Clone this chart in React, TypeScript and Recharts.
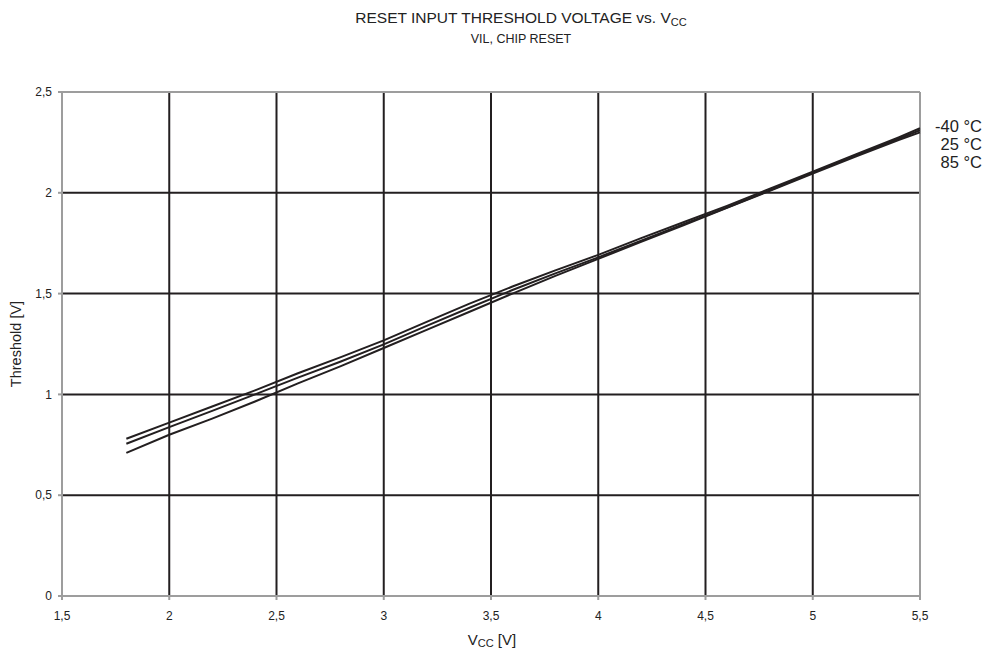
import { CartesianGrid, Line, LineChart, ReferenceLine, XAxis, YAxis } from "recharts";

const vcc = [1.8, 2.0, 2.2, 2.4, 2.6, 2.8, 3.0, 3.2, 3.4, 3.6, 3.8, 4.0, 4.2, 4.4, 4.6, 4.8, 5.0, 5.2, 5.4, 5.5];
const tMinus40 = [0.78, 0.86, 0.94, 1.02, 1.105, 1.185, 1.268, 1.36, 1.45, 1.535, 1.615, 1.692, 1.775, 1.855, 1.935, 2.02, 2.105, 2.19, 2.275, 2.32];
const t25 = [0.755, 0.838, 0.918, 1.0, 1.083, 1.163, 1.248, 1.34, 1.43, 1.518, 1.6, 1.68, 1.762, 1.845, 1.927, 2.012, 2.1, 2.185, 2.268, 2.31];
const t85 = [0.71, 0.8, 0.88, 0.965, 1.055, 1.14, 1.23, 1.32, 1.41, 1.5, 1.588, 1.672, 1.757, 1.84, 1.925, 2.01, 2.095, 2.18, 2.262, 2.3];
const xTicks = [1.5, 2, 2.5, 3, 3.5, 4, 4.5, 5, 5.5];
const yTicks = [0, 0.5, 1, 1.5, 2, 2.5];
const seriesLabels = ["-40 °C", "25 °C", "85 °C"];

const data = vcc.map((v, i) => ({ v, a: tMinus40[i], b: t25[i], c: t85[i] }));

const FONT = "'Liberation Sans', Arial, sans-serif";
const INK = "#231f20";
const AXIS = "#9d9d9d";
const fmt = (n: number) => String(n).replace(".", ",");

export default function App() {
  return (
    <div style={{ position: "absolute", left: 0, top: 0, width: 987, height: 652, background: "#fff", fontFamily: FONT }}>
      <LineChart width={987} height={652} data={data} margin={{ top: 92, right: 67, bottom: 26, left: 0 }}>
        <CartesianGrid stroke={INK} strokeWidth={2} />
        <XAxis
          type="number"
          dataKey="v"
          domain={[1.5, 5.5]}
          ticks={xTicks}
          tickFormatter={fmt}
          height={30}
          stroke={AXIS}
          strokeWidth={2}
          tickSize={4}
          tickMargin={11}
          tick={{ fontSize: 12, fill: "#222", fontFamily: FONT }}
        />
        <YAxis
          type="number"
          domain={[0, 2.5]}
          ticks={yTicks}
          tickFormatter={fmt}
          width={62}
          stroke={AXIS}
          strokeWidth={2}
          tickSize={4}
          tickMargin={6}
          tick={{ fontSize: 12, fill: "#222", fontFamily: FONT }}
        />
        <ReferenceLine y={2.5} stroke={AXIS} strokeWidth={2} />
        <ReferenceLine x={5.5} stroke={AXIS} strokeWidth={2} />
        <Line dataKey="a" stroke={INK} strokeWidth={2} dot={false} isAnimationActive={false} />
        <Line dataKey="b" stroke={INK} strokeWidth={2} dot={false} isAnimationActive={false} />
        <Line dataKey="c" stroke={INK} strokeWidth={2} dot={false} isAnimationActive={false} />
      </LineChart>
      <svg width={987} height={652} style={{ position: "absolute", left: 0, top: 0, pointerEvents: "none" }}>
        <text x={521} y={23} textAnchor="middle" fontSize={15.5} fill="#222" fontFamily={FONT}>
          RESET INPUT THRESHOLD VOLTAGE vs. V<tspan fontSize={11} dy={3}>CC</tspan>
        </text>
        <text x={521} y={43} textAnchor="middle" fontSize={12.5} fill="#222" fontFamily={FONT}>
          VIL, CHIP RESET
        </text>
        {seriesLabels.map((s, i) => (
          <text key={s} x={982} y={132 + i * 18} textAnchor="end" fontSize={16.5} fill="#222" fontFamily={FONT}>
            {s}
          </text>
        ))}
        <text x={492} y={645} textAnchor="middle" fontSize={15} fill="#222" fontFamily={FONT}>
          V<tspan fontSize={11} dy={2}>CC</tspan>
          <tspan dy={-2}> [V]</tspan>
        </text>
        <text x={21} y={344} textAnchor="middle" fontSize={14.5} fill="#222" fontFamily={FONT} transform="rotate(-90 21 344)">
          Threshold [V]
        </text>
      </svg>
    </div>
  );
}
